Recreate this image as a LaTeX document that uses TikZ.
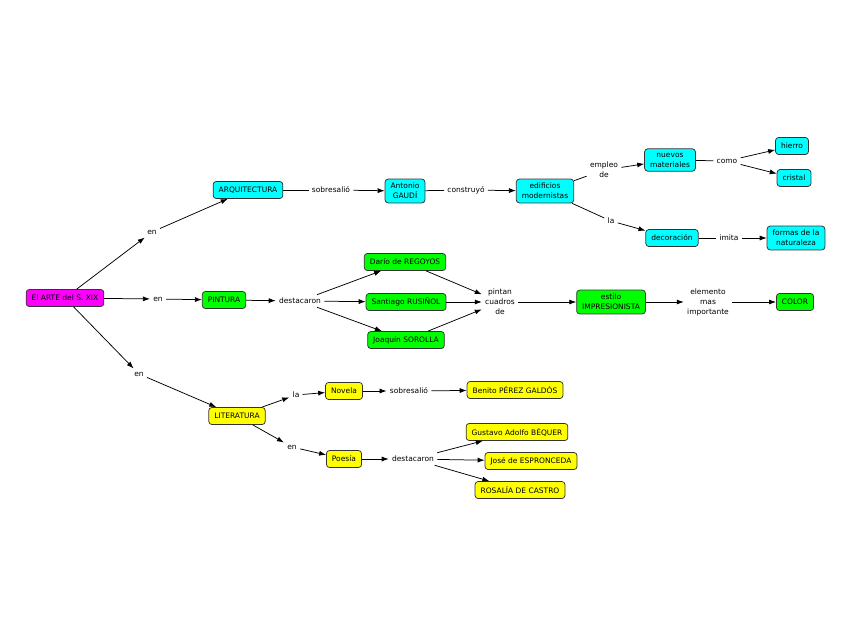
\documentclass[tikz,border=0pt]{standalone}
\usepackage{fontspec}
\setmainfont{DejaVu Sans}
\usetikzlibrary{arrows.meta}
\definecolor{conborder}{HTML}{333333}
\definecolor{conmagenta}{HTML}{FF00FF}
\definecolor{concyan}{HTML}{00FFFF}
\definecolor{congreen}{HTML}{00FF00}
\definecolor{conyellow}{HTML}{FFFF00}
\begin{document}
\begin{tikzpicture}[x=1pt,y=-1pt,->,>={Latex[length=7pt,width=5pt]},line width=0.75pt,
    font=\fontsize{7.5}{10}\selectfont,
    concept/.style={draw=conborder,rounded corners=3pt,align=center,inner xsep=5.5pt,inner ysep=4pt,minimum height=17pt},
    link/.style={align=center,inner sep=3pt},
    arte node/.style={concept,fill=conmagenta},
    arq node/.style={concept,fill=concyan},
    pint node/.style={concept,fill=congreen},
    lit node/.style={concept,fill=conyellow}]
  \useasboundingbox (0,0) rectangle (848,638);
   % centre
   \node[arte node] (arte) at (65,298) {El ARTE del S. XIX};
   \node[link] (en1) at (152,232) {en};
   \node[link] (en2) at (158,299) {en};
   \node[link] (en3) at (139,374) {en};
   % arquitectura
   \node[arq node] (arq) at (248,190) {ARQUITECTURA};
   \node[link] (sobre1) at (331,190) {sobresalió};
   \node[arq node] (gaudi) at (405,191) {Antonio\\GAUDÍ};
   \node[link] (constr) at (466,190) {construyó};
   \node[arq node] (edif) at (545,191) {edificios\\modernistas};
   \node[link] (empleo) at (604,170) {empleo\\de};
   \node[arq node] (nuevos) at (670,160) {nuevos\\materiales};
   \node[link] (como) at (727,161) {como};
   \node[arq node] (hierro) at (792,146) {hierro};
   \node[arq node] (cristal) at (794,178) {cristal};
   \node[link] (la1) at (611,221) {la};
   \node[arq node] (deco) at (672,238) {decoración};
   \node[link] (imita) at (729,238) {imita};
   \node[arq node] (formas) at (796,238) {formas de la\\naturaleza};
   % pintura
   \node[pint node] (pint) at (224,300) {PINTURA};
   \node[link] (destP) at (300,301) {destacaron};
   \node[pint node] (dario) at (405,262) {Darío de REGOYOS};
   \node[pint node] (santi) at (406,302) {Santiago RUSIÑOL};
   \node[pint node] (joaq) at (406,340) {Joaquín SOROLLA};
   \node[link] (pintan) at (500,302) {pintan\\cuadros\\de};
   \node[pint node] (estilo) at (611,302) {estilo\\IMPRESIONISTA};
   \node[link] (elem) at (708,302) {elemento\\mas\\importante};
   \node[pint node] (color) at (795,302) {COLOR};
   % literatura
   \node[lit node] (lit) at (237,416) {LITERATURA};
   \node[link] (la2) at (296,395) {la};
   \node[lit node] (novela) at (344,391) {Novela};
   \node[link] (sobre2) at (409,391) {sobresalió};
   \node[lit node] (benito) at (515,390) {Benito PÉREZ GALDÓS};
   \node[link] (en4) at (292,447) {en};
   \node[lit node] (poesia) at (344,459) {Poesía};
   \node[link] (destL) at (413,459) {destacaron};
   \node[lit node] (gust) at (517,432) {Gustavo Adolfo BÉQUER};
   \node[lit node] (jose) at (531,461) {José de ESPRONCEDA};
   \node[lit node] (rosa) at (520,490) {ROSALÍA DE CASTRO};

   \draw (arte) -- (en1);
   \draw (en1) -- (arq);
   \draw (arte) -- (en2);
   \draw (en2) -- (pint);
   \draw (arte) -- (en3);
   \draw (en3) -- (lit);

   \draw[-] (arq) -- (sobre1);
   \draw (sobre1) -- (gaudi);
   \draw[-] (gaudi) -- (constr);
   \draw (constr) -- (edif);
   \draw[-] (edif) -- (empleo);
   \draw (empleo) -- (nuevos);
   \draw[-] (nuevos) -- (como);
   \draw (como) -- (hierro);
   \draw (como) -- (cristal);
   \draw[-] (edif) -- (la1);
   \draw (la1) -- (deco);
   \draw[-] (deco) -- (imita);
   \draw (imita) -- (formas);

   \draw (pint) -- (destP);
   \draw (destP) -- (dario);
   \draw (destP) -- (santi);
   \draw (destP) -- (joaq);
   \draw (dario) -- (pintan);
   \draw (santi) -- (pintan);
   \draw (joaq) -- (pintan);
   \draw (pintan) -- (estilo);
   \draw (estilo) -- (elem);
   \draw (elem) -- (color);

   \draw (lit) -- (la2);
   \draw (la2) -- (novela);
   \draw (novela) -- (sobre2);
   \draw (sobre2) -- (benito);
   \draw (lit) -- (en4);
   \draw (en4) -- (poesia);
   \draw (poesia) -- (destL);
   \draw (destL) -- (gust);
   \draw (destL) -- (jose);
   \draw (destL) -- (rosa);
\end{tikzpicture}
\end{document}
